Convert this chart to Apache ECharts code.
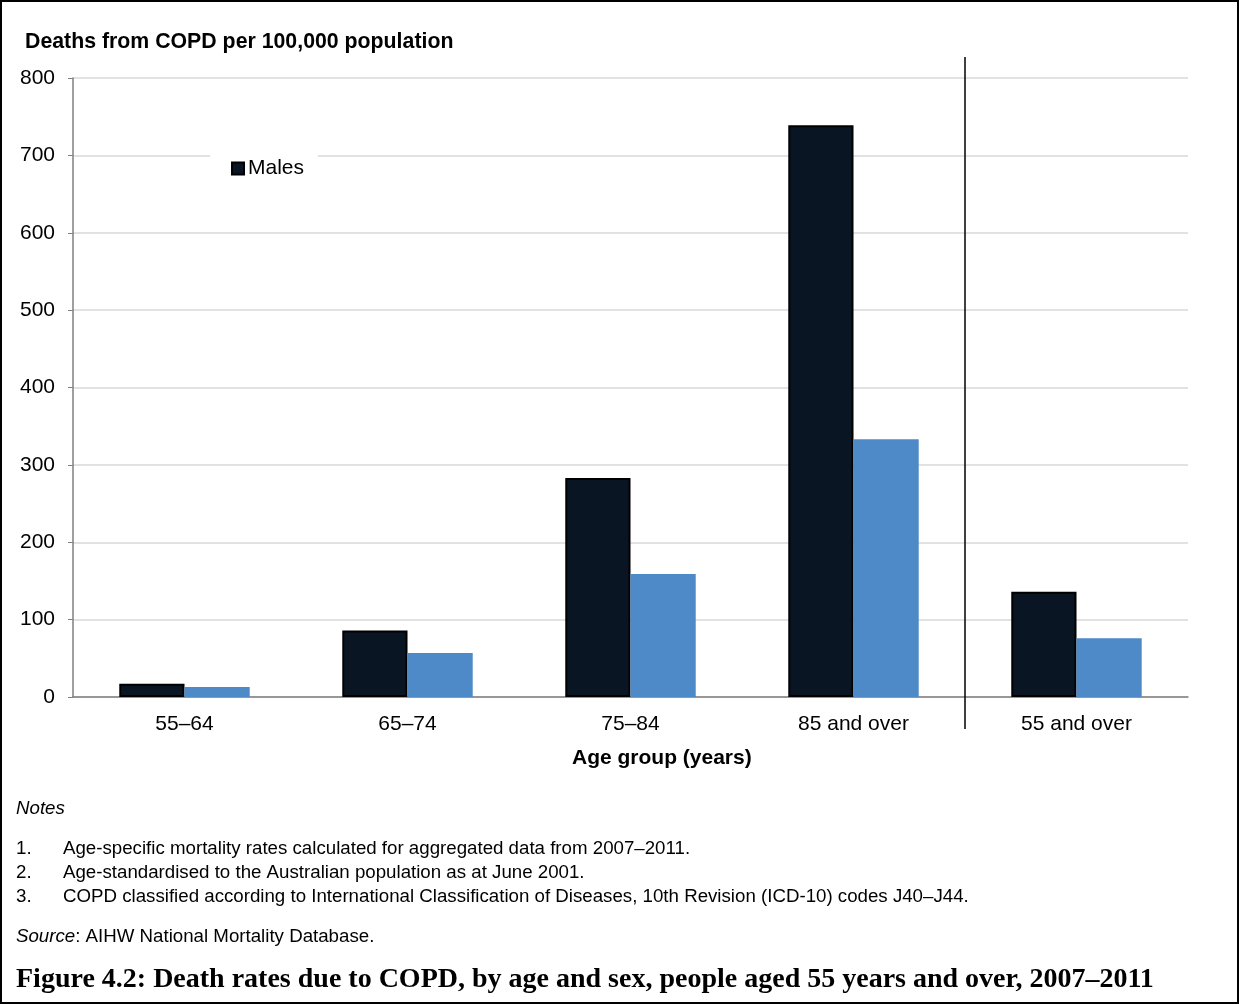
<!DOCTYPE html>
<html><head><meta charset="utf-8">
<script src="https://cdn.jsdelivr.net/npm/echarts@6/dist/echarts.min.js"></script>
<style>
html,body{margin:0;padding:0;background:#fff;}
#frame{position:absolute;left:0;top:0;width:1239px;height:1004px;box-sizing:border-box;border:2px solid #000;}
#chart{position:absolute;left:0;top:0;width:1239px;height:1004px;}
</style></head>
<body>
<div id="chart"></div>
<div id="frame"></div>
<script>
const categories = ['55–64', '65–74', '75–84', '85 and over', '55 and over'];
const males = [17, 86, 283, 739, 136];
const females = [13, 57, 159, 333, 76];
const yTicks = { min: 0, max: 800, interval: 100 };
const dividerAfterCategory = 4;

const F = 'Liberation Sans, Arial, sans-serif';
const chart = echarts.init(document.getElementById('chart'), null, { renderer: 'canvas' });

const option = {
  animation: false,
  backgroundColor: 'transparent',
  grid: { left: 73, right: 51, top: 78, bottom: 307, containLabel: false },
  legend: {
    data: ['Males'],
    left: 210, top: 150,
    backgroundColor: '#fff',
    padding: [8, 14, 8, 21],
    itemWidth: 12, itemHeight: 12, itemGap: 10,
    icon: 'rect',
    textStyle: { fontFamily: F, fontSize: 21, color: '#000', padding: [0, 0, 0, -1] }
  },
  xAxis: [
    {
      type: 'category', data: categories,
      axisLine: { lineStyle: { color: '#7f7f7f', width: 1.5 } },
      axisTick: { show: false },
      axisLabel: { fontFamily: F, fontSize: 21, color: '#000', margin: 17 }
    },
    { type: 'value', min: 0, max: categories.length, show: false }
  ],
  yAxis: {
    type: 'value', min: yTicks.min, max: yTicks.max, interval: yTicks.interval,
    axisLine: { show: true, lineStyle: { color: '#7f7f7f', width: 1.5 } },
    axisTick: { show: true, length: 5, lineStyle: { color: '#7f7f7f' } },
    axisLabel: { fontFamily: F, fontSize: 21, color: '#000', margin: 18 },
    splitLine: { lineStyle: { color: '#d9d9d9', width: 1.5 } }
  },
  series: [
    {
      name: 'Males', type: 'bar', data: males, xAxisIndex: 0,
      barGap: '0%', barCategoryGap: '41.5%',
      itemStyle: { color: '#0a1524', borderColor: '#000', borderWidth: 2 }
    },
    {
      name: 'Females', type: 'bar', data: females, xAxisIndex: 0,
      barGap: '0%', barCategoryGap: '41.5%',
      itemStyle: { color: '#4e8ac7' }
    }
  ],
  graphic: [
    { type: 'text', left: 25, top: 32, style: { text: 'Deaths from COPD per 100,000 population', font: 'bold 21.3px ' + F, fill: '#000' } },
    { type: 'text', left: 572, top: 748, style: { text: 'Age group (years)', font: 'bold 21px ' + F, fill: '#000' } },
    { type: 'text', left: 16, top: 799, style: { text: 'Notes', font: 'italic 18.7px ' + F, fill: '#000' } },
    { type: 'text', left: 16, top: 839, style: { text: '1.', font: '18.7px ' + F, fill: '#000' } },
    { type: 'text', left: 63, top: 839, style: { text: 'Age-specific mortality rates calculated for aggregated data from 2007–2011.', font: '18.7px ' + F, fill: '#000' } },
    { type: 'text', left: 16, top: 863, style: { text: '2.', font: '18.7px ' + F, fill: '#000' } },
    { type: 'text', left: 63, top: 863, style: { text: 'Age-standardised to the Australian population as at June 2001.', font: '18.7px ' + F, fill: '#000' } },
    { type: 'text', left: 16, top: 887, style: { text: '3.', font: '18.7px ' + F, fill: '#000' } },
    { type: 'text', left: 63, top: 887, style: { text: 'COPD classified according to International Classification of Diseases, 10th Revision (ICD-10) codes J40–J44.', font: '18.7px ' + F, fill: '#000' } },
    { type: 'text', left: 16, top: 927, style: {
        text: '{i|Source}{n|: AIHW National Mortality Database.}',
        rich: { i: { font: 'italic 18.7px ' + F, fill: '#000' }, n: { font: '18.7px ' + F, fill: '#000' } }
    } },
    { type: 'text', left: 16, top: 966, style: { text: 'Figure 4.2: Death rates due to COPD, by age and sex, people aged 55 years and over, 2007–2011', font: 'bold 28px Liberation Serif, serif', fill: '#000' } }
  ]
};
chart.setOption(option);

// vertical divider between the age groups and the age-standardised total, positioned via the axis scales
const xPix = chart.convertToPixel({ xAxisIndex: 1 }, dividerAfterCategory);
const yTop = chart.convertToPixel({ yAxisIndex: 0 }, yTicks.max) - 21;
const yBot = chart.convertToPixel({ yAxisIndex: 0 }, yTicks.min) + 32;
const g = option.graphic.slice();
g.push({ type: 'line', shape: { x1: xPix, y1: yTop, x2: xPix, y2: yBot }, style: { stroke: '#000', lineWidth: 1.5 }, z: 100 });
chart.setOption({ graphic: g });
</script>
</body></html>
